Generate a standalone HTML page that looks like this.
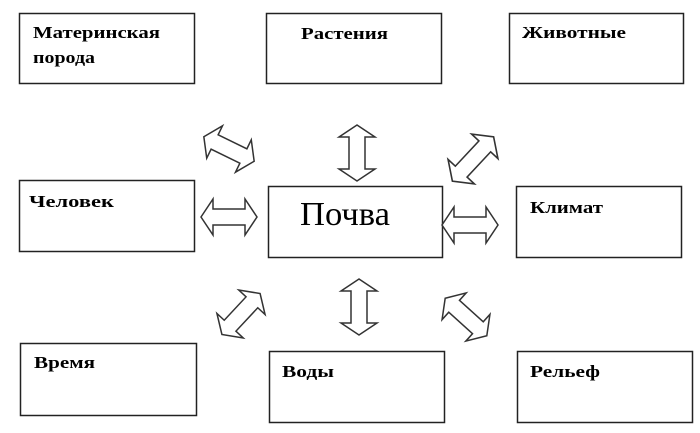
<!DOCTYPE html>
<html><head><meta charset="utf-8"><style>
html,body{margin:0;padding:0;background:#fff;}
svg{display:block;}
text{font-family:"Liberation Serif","DejaVu Serif",serif;fill:#000;}
.b{font-weight:bold;font-size:17px;}
</style></head><body>
<svg width="700" height="433" viewBox="0 0 700 433" xmlns="http://www.w3.org/2000/svg">
<defs>
<path id="a" d="M-28,0 L-16,-18 L-16,-8 L16,-8 L16,-18 L28,0 L16,18 L16,8 L-16,8 L-16,18 Z" fill="#fff" stroke="#333" stroke-width="1.5" stroke-linejoin="miter"/>
</defs>
<g fill="#fff" stroke="#222" stroke-width="1.5">
<rect x="19.5" y="13.5" width="175" height="70"/>
<rect x="266.5" y="13.5" width="175" height="70"/>
<rect x="509.5" y="13.5" width="174" height="70"/>
<rect x="19.5" y="180.5" width="175" height="71"/>
<rect x="268.5" y="186.5" width="174" height="71"/>
<rect x="516.5" y="186.5" width="165" height="71"/>
<rect x="20.5" y="343.5" width="176" height="72"/>
<rect x="269.5" y="351.5" width="175" height="71"/>
<rect x="517.5" y="351.5" width="175" height="71"/>
</g>
<use href="#a" transform="translate(357,153) rotate(90)"/>
<use href="#a" transform="translate(229,217)"/>
<use href="#a" transform="translate(470,225)"/>
<use href="#a" transform="translate(229,149) rotate(26)"/>
<use href="#a" transform="translate(473,159) rotate(-47) scale(1.08,1)"/>
<use href="#a" transform="translate(359,307) rotate(90)"/>
<use href="#a" transform="translate(241,314) rotate(-47)"/>
<use href="#a" transform="translate(466,317) rotate(42)"/>
<text class="b" x="33" y="38" textLength="127" lengthAdjust="spacingAndGlyphs">Материнская</text>
<text class="b" x="33" y="63" textLength="62" lengthAdjust="spacingAndGlyphs">порода</text>
<text class="b" x="301" y="39" textLength="87" lengthAdjust="spacingAndGlyphs">Растения</text>
<text class="b" x="522" y="38" textLength="104" lengthAdjust="spacingAndGlyphs">Животные</text>
<text class="b" x="29" y="207" textLength="85" lengthAdjust="spacingAndGlyphs">Человек</text>
<text x="300" y="225" font-size="34" textLength="90" lengthAdjust="spacingAndGlyphs">Почва</text>
<text class="b" x="530" y="213" textLength="73" lengthAdjust="spacingAndGlyphs">Климат</text>
<text class="b" x="34" y="368" textLength="61" lengthAdjust="spacingAndGlyphs">Время</text>
<text class="b" x="282" y="377" textLength="52" lengthAdjust="spacingAndGlyphs">Воды</text>
<text class="b" x="530" y="377" textLength="70" lengthAdjust="spacingAndGlyphs">Рельеф</text>
</svg>
</body></html>
